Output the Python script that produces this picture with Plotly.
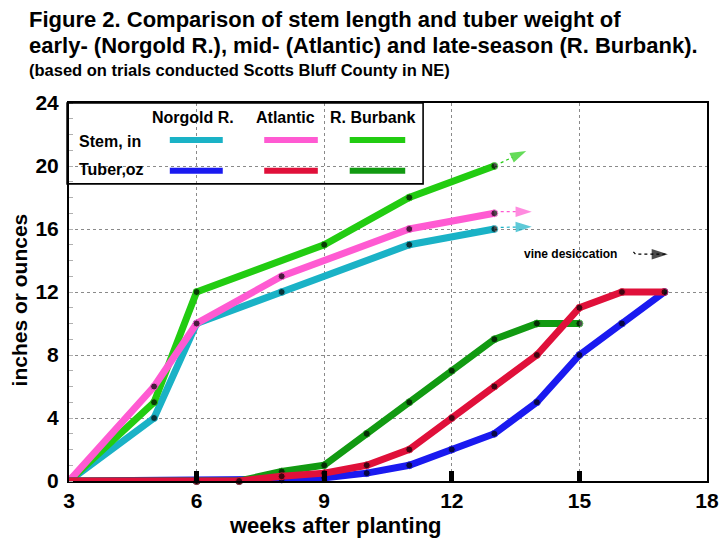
import plotly.graph_objects as go

# ---------------- data ----------------
weeks_stem_norgold = [3, 5, 6, 8, 11, 13]
stem_norgold = [0, 4, 10, 12, 15, 16]
weeks_stem_atlantic = [3, 5, 6, 8, 11, 13]
stem_atlantic = [0, 6, 10, 13, 16, 17]
weeks_stem_burbank = [3, 5, 6, 9, 11, 13]
stem_burbank = [0, 5, 12, 15, 18, 20]

weeks_tuber_norgold = [3, 6, 7, 8, 9, 10, 11, 12, 13, 14, 15, 16, 17]
tuber_norgold = [0, 0, 0, 0.1, 0.2, 0.5, 1, 2, 3, 5, 8, 10, 12]
weeks_tuber_atlantic = [3, 6, 7, 8, 9, 10, 11, 12, 13, 14, 15, 16, 17]
tuber_atlantic = [0, 0, 0, 0.3, 0.5, 1, 2, 4, 6, 8, 11, 12, 12]
weeks_tuber_burbank = [3, 6, 7, 8, 9, 10, 11, 12, 13, 14, 15]
tuber_burbank = [0, 0, 0, 0.6, 1, 3, 5, 7, 9, 10, 10]

varieties = ["Norgold R.", "Atlantic", "R. Burbank"]
x_ticks = [3, 6, 9, 12, 15, 18]
y_ticks = [0, 4, 8, 12, 16, 20, 24]

# continuation arrows (stem growth beyond last measurement) and vine desiccation
arrow_specs = [
    dict(x=[13.15, 13.75], y=[20.2, 20.95], color="#22CC11"),
    dict(x=[13.15, 13.88], y=[17.1, 17.1], color="#FF5AD2"),
    dict(x=[13.15, 13.88], y=[16.1, 16.15], color="#1AB2C6"),
    dict(x=[16.27, 16.32, 17.08], y=[14.55, 14.4, 14.4], color="#000000"),
]

# ---------------- style ----------------
C_STEM = {"Norgold R.": "#1AB2C6", "Atlantic": "#FF5AD2", "R. Burbank": "#22CC11"}
C_TUBER = {"Norgold R.": "#1A1AF0", "Atlantic": "#E0103A", "R. Burbank": "#129A12"}
FONT = "Liberation Sans, Arial, sans-serif"

fig = go.Figure()


def add_series(x, y, color):
    sizes = [0] + [7] * (len(x) - 1)
    fig.add_trace(go.Scatter(
        x=x, y=y, mode="lines+markers",
        line=dict(color=color, width=7),
        marker=dict(color="black", size=sizes),
        showlegend=False, cliponaxis=False, hoverinfo="skip"))


add_series(weeks_stem_norgold, stem_norgold, C_STEM["Norgold R."])
add_series(weeks_stem_burbank, stem_burbank, C_STEM["R. Burbank"])
add_series(weeks_stem_atlantic, stem_atlantic, C_STEM["Atlantic"])
add_series(weeks_tuber_norgold, tuber_norgold, C_TUBER["Norgold R."])
add_series(weeks_tuber_burbank, tuber_burbank, C_TUBER["R. Burbank"])
add_series(weeks_tuber_atlantic, tuber_atlantic, C_TUBER["Atlantic"])

for a in arrow_specs:
    n = len(a["x"])
    fig.add_trace(go.Scatter(
        x=a["x"], y=a["y"], mode="lines+markers",
        line=dict(color=a["color"], width=1.2, dash="dot"),
        marker=dict(symbol="arrow", angleref="previous", size=[0] * (n - 1) + [17],
                    color=a["color"], line=dict(width=0)),
        showlegend=False, hoverinfo="skip"))

# ---------------- legend box (drawn manually) ----------------
shapes = [dict(type="rect", xref="paper", yref="paper", x0=-0.003, x1=0.555,
               y0=0.786, y1=1.0, line=dict(color="black", width=1.6))]
annotations = []
col_x = [0.194, 0.339, 0.476]
seg = [(0.158, 0.241), (0.306, 0.390), (0.440, 0.527)]
for i, v in enumerate(varieties):
    annotations.append(dict(xref="paper", yref="paper", x=col_x[i], y=0.962,
                            text=v, showarrow=False, xanchor="center", yanchor="middle",
                            font=dict(family=FONT, size=16, color="black", weight="bold")))
    for yy, cmap in ((0.902, C_STEM), (0.821, C_TUBER)):
        shapes.append(dict(type="line", xref="paper", yref="paper",
                           x0=seg[i][0], x1=seg[i][1], y0=yy, y1=yy,
                           line=dict(color=cmap[v], width=6)))
for txt, yy in (("Stem, in", 0.899), ("Tuber,oz", 0.823)):
    annotations.append(dict(xref="paper", yref="paper", x=0.0125, y=yy, text=txt,
                            showarrow=False, xanchor="left", yanchor="middle",
                            font=dict(family=FONT, size=16, color="black", weight="bold")))

annotations.append(dict(x=14.78, y=14.4, text="vine desiccation", showarrow=False,
                        xanchor="center", yanchor="middle",
                        font=dict(family=FONT, size=12, color="black", weight="bold")))

# titles
titles = [
    ("Figure 2. Comparison of stem length and tuber weight of", 1.222, 22),
    ("early- (Norgold R.), mid- (Atlantic) and late-season (R. Burbank).", 1.153, 22),
    ("(based on trials conducted Scotts Bluff County in NE)", 1.088, 16.5),
]
for txt, yy, sz in titles:
    annotations.append(dict(xref="paper", yref="paper", x=-0.066, y=yy, text=txt,
                            showarrow=False, xanchor="left", yanchor="middle",
                            font=dict(family=FONT, size=sz, color="black", weight="bold")))

annotations.append(dict(xref="paper", yref="paper", x=0.418, y=-0.117,
                        text="weeks after planting", showarrow=False,
                        xanchor="center", yanchor="middle",
                        font=dict(family=FONT, size=22, color="black", weight="bold")))
annotations.append(dict(xref="paper", yref="paper", x=-0.077, y=0.48,
                        text="inches or ounces", showarrow=False, textangle=-90,
                        xanchor="center", yanchor="middle",
                        font=dict(family=FONT, size=21, color="black", weight="bold")))

fig.update_layout(
    width=720, height=556,
    margin=dict(l=69, r=13, t=103, b=75),
    paper_bgcolor="white", plot_bgcolor="white",
    shapes=shapes, annotations=annotations,
    showlegend=False,
)
fig.update_xaxes(
    range=[3, 18], tickvals=x_ticks, ticktext=[str(t) for t in x_ticks],
    automargin=False,
    showgrid=True, gridcolor="#8a8a8a", griddash="dot", gridwidth=1,
    ticks="inside", ticklen=10, tickwidth=5, tickcolor="black",
    showline=True, linecolor="black", linewidth=2, mirror=True, zeroline=False,
    tickfont=dict(family=FONT, size=21, color="black", weight="bold"),
)
fig.update_yaxes(
    range=[0, 24], tickvals=y_ticks, ticktext=[str(t) for t in y_ticks],
    automargin=False,
    showgrid=True, gridcolor="#8a8a8a", griddash="dot", gridwidth=1,
    ticks="", ticklabelstandoff=4,
    minor=dict(ticks="inside", dtick=1, ticklen=4, tickcolor="#b0b0b0", tickwidth=1, showgrid=False),
    showline=True, linecolor="black", linewidth=2, mirror=True, zeroline=False,
    tickfont=dict(family=FONT, size=21, color="black", weight="bold"),
)

# remove the browser's default 8px page margin so the 720x556 figure fills the window
fig.write_html(
    "out.html",
    config={"displayModeBar": False},
    post_script="document.body.style.margin='0';document.body.style.overflow='hidden';",
)
